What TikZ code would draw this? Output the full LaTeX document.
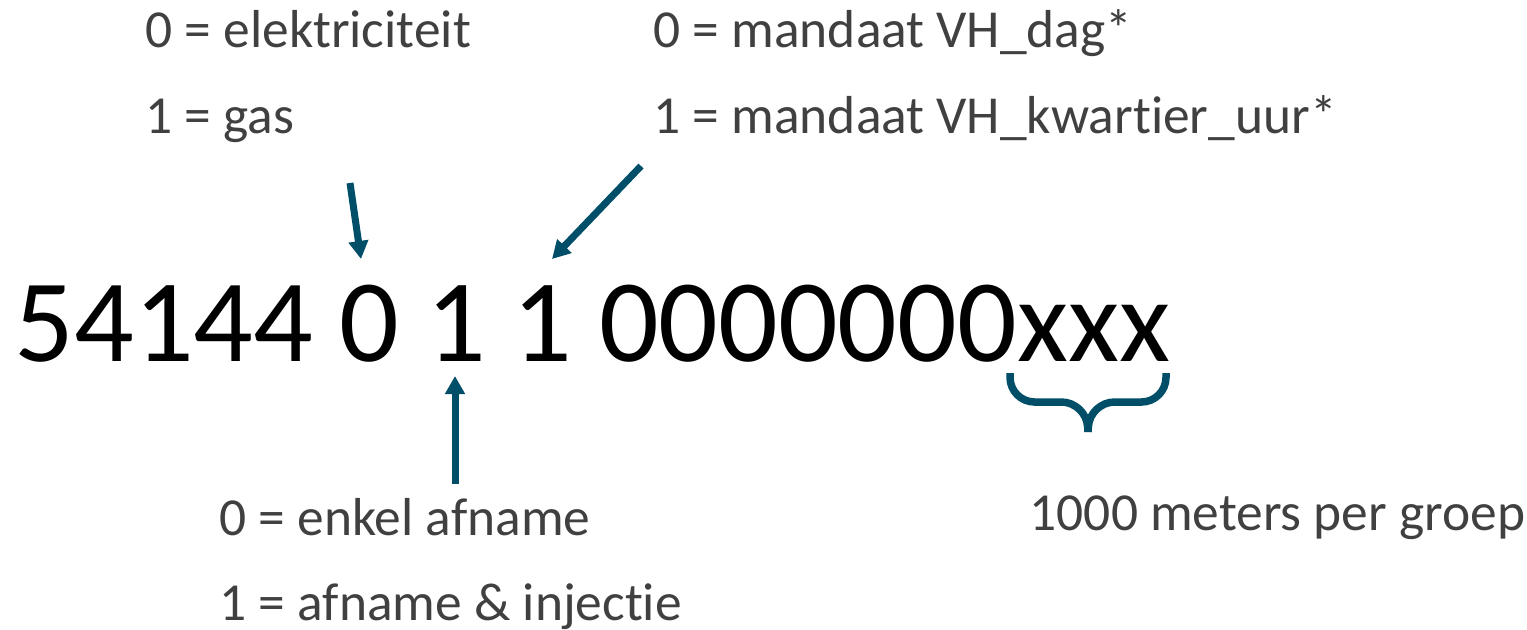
\documentclass[tikz,border=0pt]{standalone}
\usepackage{fontspec}
\setmainfont{Carlito}[Ligatures=NoCommon]
\usetikzlibrary{arrows.meta}
\definecolor{pijlblauw}{RGB}{0,78,104}
\definecolor{tekstgrijs}{RGB}{64,64,64}
\tikzset{
    uitleg/.style={anchor=base west, inner sep=0pt, text=tekstgrijs, font=\fontsize{15.2}{18}\selectfont},
    pijl/.style={-{Triangle[length=0.18cm, width=0.19cm]}, line width=0.07cm, pijlblauw}
}
\begin{document}
\begin{tikzpicture}[x=0.01cm, y=-0.01cm]
        \useasboundingbox (0,0) rectangle (1527,629);

        % Het nummer
        \node[anchor=base west, inner sep=0pt, font=\fontsize{33.5}{40}\selectfont] (nummer) at (14,361) {54144 0 1 1 0000000xxx};

        % Uitleg boven
        \node[uitleg] (elek) at (145,47) {0 = elektriciteit};
        \node[uitleg] (gas) at (145,133) {1 = gas};
        \node[uitleg] (dag) at (653,47) {0 = mandaat VH\_dag*};
        \node[uitleg] (kwartier) at (653,133) {1 = mandaat VH\_kwartier\_uur*};

        % Uitleg onder
        \node[uitleg] (enkel) at (219,535) {0 = enkel afname};
        \node[uitleg] (injectie) at (219,620) {1 = afname \& injectie};
        \node[uitleg] (groep) at (1029,530) {1000 meters per groep};

        % Pijlen
        \coordinate (p1a) at (350,183);
        \coordinate (p1b) at (361,259);
        \coordinate (p2a) at (641,166);
        \coordinate (p2b) at (552,259);
        \coordinate (p3a) at (455,484);
        \coordinate (p3b) at (455,376);
        \draw[pijl] (p1a) -- (p1b);
        \draw[pijl] (p2a) -- (p2b);
        \draw[pijl] (p3a) -- (p3b);

        % Accolade onder xxx
        \draw[pijlblauw, line width=0.075cm, rounded corners=7] (1010,373) -- (1010,402) -- (1086,402) -- (1088,432);
        \draw[pijlblauw, line width=0.075cm, rounded corners=7] (1166,373) -- (1166,402) -- (1090,402) -- (1088,432);
    \end{tikzpicture}
\end{document}
